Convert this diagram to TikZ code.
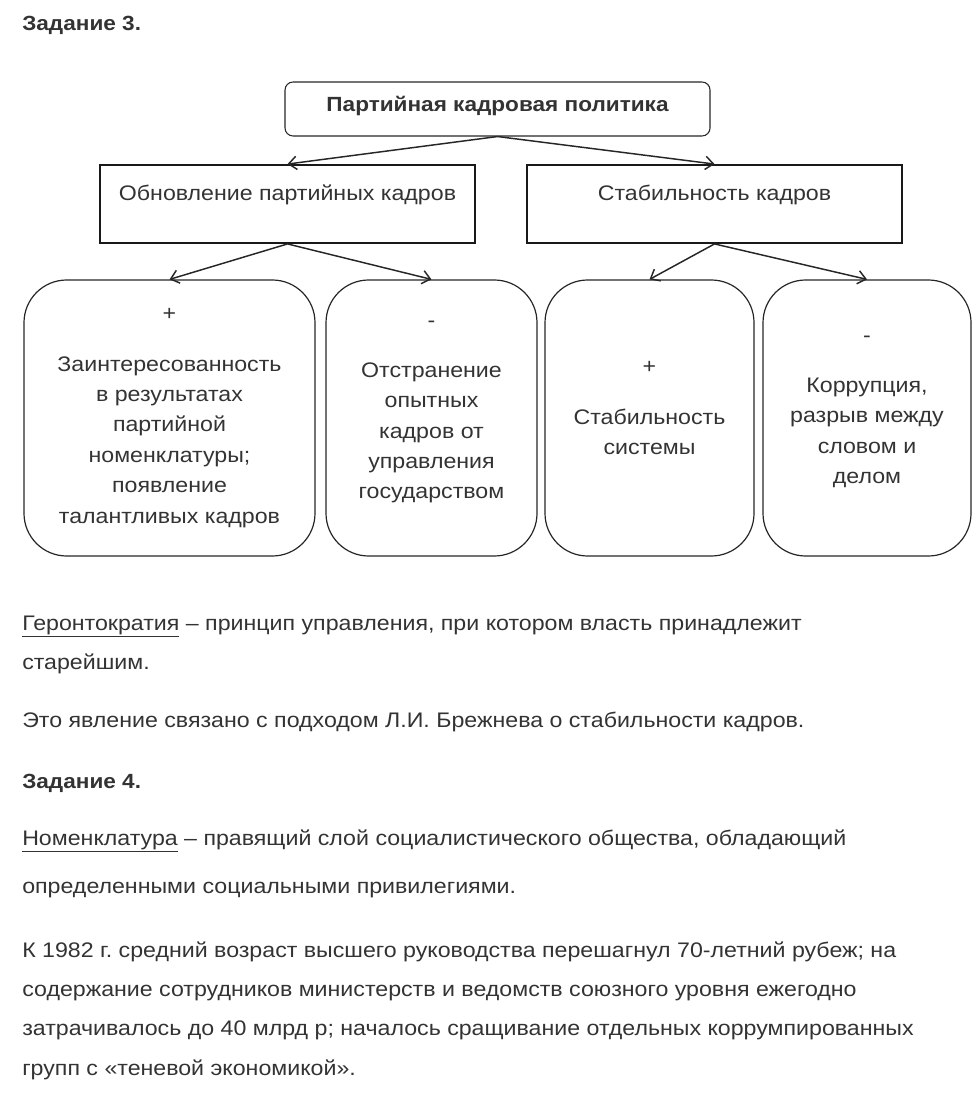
\documentclass[tikz,border=0pt]{standalone}
\usepackage{fontspec}
\setmainfont{Liberation Sans}[FakeStretch=1.1]
\usetikzlibrary{arrows.meta, positioning}
\definecolor{ink}{HTML}{333333}
\frenchspacing

\begin{document}
\begin{tikzpicture}[x=0.75pt, y=-0.75pt,
	every node/.style={text=ink, inner sep=0pt},
	txtline/.style={anchor=base west, font=\fontsize{15.8}{19}\selectfont},
	taskhead/.style={anchor=base west, font=\fontsize{15.4}{19}\selectfont\bfseries},
	topbox/.style={draw=black!85, line width=0.8pt, rounded corners=6pt},
	sqbox/.style={draw=black!90, line width=1.4pt},
	card/.style={draw=black!85, line width=0.9pt, rounded corners=32pt},
	intext/.style={align=center, font=\fontsize{15.8}{22.8}\selectfont},
	arr/.style={draw=black!85, line width=1.1pt, -{Straight Barb[length=6pt,width=10pt]}}
]

	\useasboundingbox (0,0) rectangle (980,1098);

	\node [taskhead] (task3) at (22,31) {Задание 3.};

%boxes of the scheme
	\node [topbox, minimum width=318.75pt, minimum height=40.5pt] (policy) at (497.5,109) {};
	\node [anchor=base, font=\fontsize{15.4}{19}\selectfont\bfseries] (policytxt) at (497.5,112) {Партийная кадровая политика};

	\node [sqbox, minimum width=281.25pt, minimum height=58.5pt] (renew) at (287.5,204) {};
	\node [intext, anchor=base] (renewtxt) at (287.5,200) {Обновление партийных кадров};
	\node [sqbox, minimum width=281.25pt, minimum height=58.5pt] (stab) at (714.5,204) {};
	\node [intext, anchor=base] (stabtxt) at (714.5,200) {Стабильность кадров};

	\node [card, minimum width=218.25pt, minimum height=207pt] (pro1) at (169.5,418) {};
	\node [card, minimum width=158.25pt, minimum height=207pt] (con1) at (431.5,418) {};
	\node [card, minimum width=156.75pt, minimum height=207pt] (pro2) at (649.5,418) {};
	\node [card, minimum width=156pt, minimum height=207pt] (con2) at (867,418) {};

%signs and texts in the cards
	\node [intext, anchor=base] (pro1sign) at (169.5,320) {+};
	\node [intext] (pro1txt) at (169.5,442) {Заинтересованность\\в результатах\\партийной\\номенклатуры;\\появление\\талантливых кадров};
	\node [intext, anchor=base] (con1sign) at (431.5,327) {-};
	\node [intext] (con1txt) at (431.5,433) {Отстранение\\опытных\\кадров от\\управления\\государством};
	\node [intext, anchor=base] (pro2sign) at (649.5,373) {+};
	\node [intext] (pro2txt) at (649.5,432) {Стабильность\\системы};
	\node [intext, anchor=base] (con2sign) at (867,342) {-};
	\node [intext] (con2txt) at (867,433) {Коррупция,\\разрыв между\\словом и\\делом};

%arrows
	\draw [arr] (policy.south) -- (renew.north);
	\draw [arr] (policy.south) -- (stab.north);
	\draw [arr] (renew.south) -- (pro1.north);
	\draw [arr] (renew.south) -- (con1.north);
	\draw [arr] (stab.south) -- (pro2.north);
	\draw [arr] (stab.south) -- (con2.north);

%text below
	\node [txtline] (geron) at (22,630) {\underline{Геронтократия} – принцип управления, при котором власть принадлежит};
	\node [txtline] (geron2) at (22,669) {старейшим.};
	\node [txtline] (brezh) at (22,727) {Это явление связано с подходом Л.И. Брежнева о стабильности кадров.};
	\node [taskhead] (task4) at (22,788) {Задание 4.};
	\node [txtline] (nomen) at (22,845) {\underline{Номенклатура} – правящий слой социалистического общества, обладающий};
	\node [txtline] (nomen2) at (22,893) {определенными социальными привилегиями.};
	\node [txtline] (age1) at (22,957) {К 1982 г. средний возраст высшего руководства перешагнул 70-летний рубеж; на};
	\node [txtline] (age2) at (22,996) {содержание сотрудников министерств и ведомств союзного уровня ежегодно};
	\node [txtline] (age3) at (22,1035) {затрачивалось до 40 млрд р; началось сращивание отдельных коррумпированных};
	\node [txtline] (age4) at (22,1075) {групп с «теневой экономикой».};

\end{tikzpicture}
\end{document}
